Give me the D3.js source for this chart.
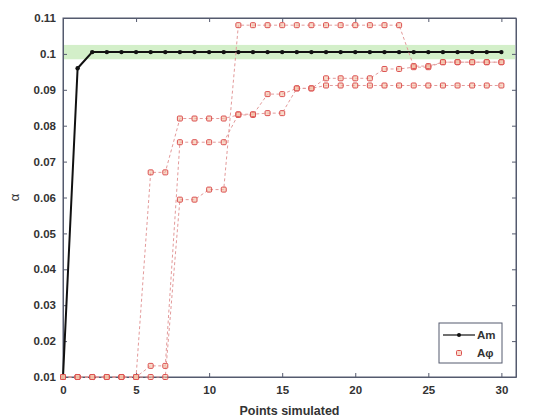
<!DOCTYPE html>
<meta charset="utf-8">
<script src="https://d3js.org/d3.v7.min.js"></script>
<style>
  body { margin: 0; background: #fff; }
  text { font-family: "Liberation Sans", Arial, sans-serif; }
</style>
<div id="chart"></div>
<script>

// points simulated (x)
var points = [0,1,2,3,4,5,6,7,8,9,10,11,12,13,14,15,16,17,18,19,20,21,22,23,24,25,26,27,28,29,30];

// Am series
var amValues = [0.01,0.096,0.1005,0.1005,0.1005,0.1005,0.1005,0.1005,0.1005,0.1005,0.1005,
  0.1005,0.1005,0.1005,0.1005,0.1005,0.1005,0.1005,0.1005,0.1005,0.1005,
  0.1005,0.1005,0.1005,0.1005,0.1005,0.1005,0.1005,0.1005,0.1005,0.1005];

// A-phi runs
var phiA = [0.01,0.01,0.01,0.01,0.01,0.01,0.067,0.067,0.082,0.082,0.082,
  0.082,0.083,0.083,0.0888,0.0888,0.0904,0.0904,0.0932,0.0932,0.0932,
  0.0932,0.0958,0.0958,0.0963,0.0963,0.0977,0.0977,0.0977,0.0977,0.0977];
var phiB = [0.01,0.01,0.01,0.01,0.01,0.01,0.0131,0.0131,0.0754,0.0754,0.0754,
  0.0754,0.0832,0.0832,0.0835,0.0835,0.0904,0.0904,0.0912,0.0912,0.0912,
  0.0912,0.0912,0.0912,0.0912,0.0912,0.0912,0.0912,0.0912,0.0912,0.0912];
var phiC = [0.01,0.01,0.01,0.01,0.01,0.01,0.01,0.01,0.0594,0.0594,0.0622,
  0.0622,0.108,0.108,0.108,0.108,0.108,0.108,0.108,0.108,0.108,
  0.108,0.108,0.108,0.0966,0.0966,0.0977,0.0977,0.0977,0.0977,0.0977];

// target band around alpha = 0.1
var bandRange = [0.0985, 0.1025];

var xTicks = [0,5,10,15,20,25,30];
var yTicks = [0.01,0.02,0.03,0.04,0.05,0.06,0.07,0.08,0.09,0.1,0.11];

var W = 539, H = 418;
var plotL = 63, plotR = 516, plotT = 18, plotB = 377;
var axisColor = "#555a6e";

var svg = d3.select("#chart").append("svg")
  .attr("width", W).attr("height", H);

var x = d3.scaleLinear().domain([0, 31]).range([plotL, plotR]);
var y = d3.scaleLinear().domain([0.01, 0.11]).range([plotB, plotT]);

// green band
svg.append("rect")
  .attr("x", plotL + 1)
  .attr("width", plotR - plotL - 2)
  .attr("y", y(bandRange[1]))
  .attr("height", y(bandRange[0]) - y(bandRange[1]))
  .attr("fill", "#d3efc9");

// axes (MATLAB style box, inward ticks)
var fmt = function(d) { return String(+d.toFixed(2)); };
svg.append("g")
  .attr("transform", "translate(0," + plotB + ")")
  .call(d3.axisBottom(x).tickValues(xTicks).tickSizeInner(-4).tickSizeOuter(0).tickPadding(9));
svg.append("g")
  .attr("transform", "translate(0," + plotT + ")")
  .call(d3.axisTop(x).tickValues(xTicks).tickSizeInner(-4).tickSizeOuter(0).tickFormat(""));
svg.append("g")
  .attr("transform", "translate(" + plotL + ",0)")
  .call(d3.axisLeft(y).tickValues(yTicks).tickSizeInner(-4).tickSizeOuter(0).tickPadding(7).tickFormat(fmt));
svg.append("g")
  .attr("transform", "translate(" + plotR + ",0)")
  .call(d3.axisRight(y).tickValues(yTicks).tickSizeInner(-4).tickSizeOuter(0).tickFormat(""));

svg.selectAll(".domain").attr("stroke", axisColor);
svg.selectAll(".tick line").attr("stroke", axisColor);
svg.selectAll(".tick text")
  .attr("fill", "#333")
  .style("font-size", "11.5px")
  .style("font-weight", "bold");

// box edges
svg.append("rect")
  .attr("x", plotL).attr("y", plotT)
  .attr("width", plotR - plotL).attr("height", plotB - plotT)
  .attr("fill", "none").attr("stroke", axisColor);

// Am line
var line = d3.line()
  .x(function(d, i) { return x(points[i]); })
  .y(function(d) { return y(d); });

svg.append("path")
  .datum(amValues)
  .attr("d", line)
  .attr("fill", "none")
  .attr("stroke", "#111")
  .attr("stroke-width", 2);

svg.append("g").selectAll("circle")
  .data(amValues)
  .enter().append("circle")
    .attr("cx", function(d, i) { return x(points[i]); })
    .attr("cy", function(d) { return y(d); })
    .attr("r", 2.2)
    .attr("fill", "#111");

// A-phi runs
[phiA, phiB, phiC].forEach(function(run) {
  svg.append("path")
    .datum(run)
    .attr("d", line)
    .attr("fill", "none")
    .attr("stroke", "#e39a9a")
    .attr("stroke-width", 1)
    .attr("stroke-dasharray", "3,2.5");
});
[phiA, phiB, phiC].forEach(function(run) {
  svg.append("g").selectAll("rect")
    .data(run)
    .enter().append("rect")
      .attr("x", function(d, i) { return x(points[i]) - 2.5; })
      .attr("y", function(d) { return y(d) - 2.5; })
      .attr("width", 5).attr("height", 5)
      .attr("rx", 1)
      .attr("fill", "#f4c2a6")
      .attr("fill-opacity", 0.6)
      .attr("stroke", "#dc5050")
      .attr("stroke-width", 1);
});

// labels
svg.append("text")
  .attr("x", (plotL + plotR) / 2)
  .attr("y", 415)
  .attr("text-anchor", "middle")
  .attr("fill", "#333")
  .style("font-size", "12.5px")
  .style("font-weight", "bold")
  .text("Points simulated");

svg.append("text")
  .attr("transform", "translate(19," + ((plotT + plotB) / 2) + ") rotate(-90)")
  .attr("text-anchor", "middle")
  .attr("fill", "#333")
  .style("font-size", "13px")
  .text("α");

// legend
var lg = svg.append("g");
lg.append("rect")
  .attr("x", 439).attr("y", 323)
  .attr("width", 63).attr("height", 40)
  .attr("fill", "#fff")
  .attr("stroke", axisColor);
lg.append("line")
  .attr("x1", 443).attr("x2", 475).attr("y1", 335).attr("y2", 335)
  .attr("stroke", "#111").attr("stroke-width", 1.2);
lg.append("circle")
  .attr("cx", 459).attr("cy", 335).attr("r", 2)
  .attr("fill", "#111");
lg.append("rect")
  .attr("x", 456.5).attr("y", 350.5).attr("width", 5).attr("height", 5)
  .attr("rx", 1)
  .attr("fill", "#f4c2a6").attr("fill-opacity", 0.6)
  .attr("stroke", "#dc5050");
lg.selectAll("text.lab")
  .data(["Am", "Aφ"])
  .enter().append("text")
    .attr("class", "lab")
    .attr("x", 477)
    .attr("y", function(d, i) { return 339 + i * 18; })
    .attr("fill", "#333")
    .style("font-size", "11.5px")
    .style("font-weight", "bold")
    .text(function(d) { return d; });

</script>
